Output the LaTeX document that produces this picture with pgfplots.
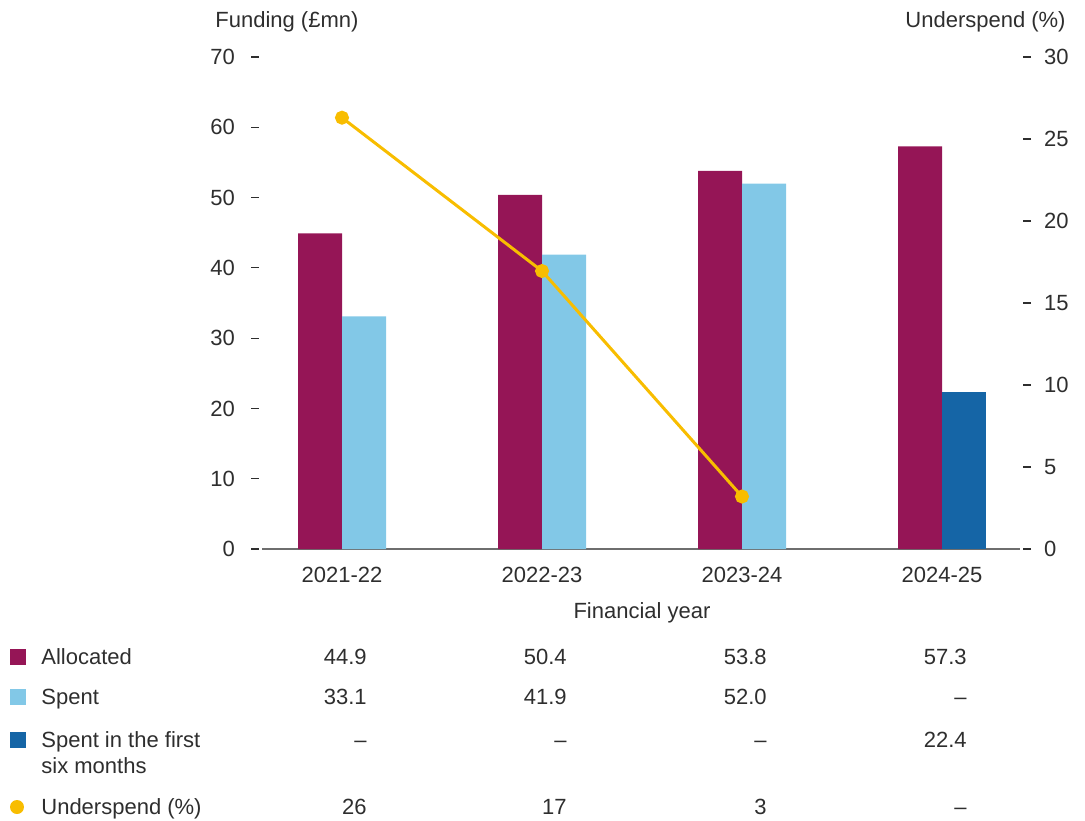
\documentclass[border=0pt]{standalone}
\usepackage{fontspec}
\setmainfont{Liberation Sans}
\usepackage{pgfplots}
\pgfplotsset{compat=1.18}
\definecolor{maroon}{HTML}{951556}
\definecolor{lblue}{HTML}{82C8E7}
\definecolor{dblue}{HTML}{1565A6}
\definecolor{gold}{HTML}{F8BD00}
\definecolor{txt}{HTML}{2E2E2E}
\definecolor{axgray}{HTML}{6E6E6E}
\newcommand{\fs}{\fontsize{11pt}{13pt}\selectfont}
\begin{document}
\begin{tikzpicture}[x=0.5pt,y=0.5pt,
  lab/.style={inner sep=0pt, text height=7.9pt, text depth=0pt, text=txt, font=\fs}]
\path (0,0) rectangle (1085,820);
\begin{axis}[
  at={(131pt,135.5pt)}, anchor=south west,
  scale only axis, width=379pt, height=246pt,
  xmin=-0.4, xmax=3.39, ymin=0, ymax=70,
  axis x line*=bottom, axis y line*=left,
  axis line style={-},
  x axis line style={axgray, line width=0.75pt},
  y axis line style={draw=none},
  xtick={0,1,2,3}, xticklabels={2021-22,2022-23,2023-24,2024-25},
  x tick style={draw=none},
  ytick={0,10,...,70},
  y tick style={txt, line width=0.6pt, xshift=-1.5pt},
  tick align=outside, major tick length=4pt,
  /pgf/number format/assume math mode=true,
  every tick label/.append style={font=\fs, text=txt},
  xticklabel style={yshift=-1.5pt},
  yticklabel style={xshift=-6pt},
  ybar, bar width=22pt,
]
\addplot[fill=maroon, draw=none, bar shift=-11pt] coordinates {(0,44.9)(1,50.4)(2,53.8)(3,57.3)};
\addplot[fill=lblue, draw=none, bar shift=11pt] coordinates {(0,33.1)(1,41.9)(2,52.0)};
\addplot[fill=dblue, draw=none, bar shift=11pt] coordinates {(3,22.4)};
\end{axis}
\begin{axis}[
  at={(131pt,135.5pt)}, anchor=south west,
  scale only axis, width=379pt, height=246pt,
  xmin=-0.4, xmax=3.39, ymin=0, ymax=30,
  axis x line=none, axis y line*=right,
  axis line style={-},
  y axis line style={draw=none},
  ytick={0,5,...,30},
  y tick style={txt, line width=0.6pt, xshift=1.5pt},
  tick align=outside, major tick length=4pt,
  /pgf/number format/assume math mode=true,
  every tick label/.append style={font=\fs, text=txt},
  yticklabel style={xshift=4.5pt},
]
\addplot[gold, line width=1.5pt, mark=*, mark size=2.75pt, mark options={fill=gold, draw=gold}] coordinates {(0,26.3)(1,16.95)(2,3.2)};
\end{axis}
% axis titles
\node[lab, anchor=west] at (215,800) {Funding (£mn)};
\node[lab, anchor=east] at (1066,800) {Underspend (\%)};
\node[lab] at (642,209) {Financial year};
% table legend
\fill[maroon] (10,155) rectangle (26,171);
\fill[lblue] (10,115) rectangle (26,131);
\fill[dblue] (10,72) rectangle (26,88);
\fill[gold] (17,13) circle (7);
\node[lab, anchor=west] at (41,163) {Allocated};
\node[lab, anchor=west] at (41,123) {Spent};
\node[lab, anchor=west] at (41,80) {Spent in the first};
\node[lab, anchor=west] at (41,54) {six months};
\node[lab, anchor=west] at (41,13) {Underspend (\%)};
% values
\node[lab, anchor=east] at (367,163) {44.9};
\node[lab, anchor=east] at (567,163) {50.4};
\node[lab, anchor=east] at (767,163) {53.8};
\node[lab, anchor=east] at (967,163) {57.3};
\node[lab, anchor=east] at (367,123) {33.1};
\node[lab, anchor=east] at (567,123) {41.9};
\node[lab, anchor=east] at (767,123) {52.0};
\node[lab, anchor=east] at (967,123) {--};
\node[lab, anchor=east] at (367,80) {--};
\node[lab, anchor=east] at (567,80) {--};
\node[lab, anchor=east] at (767,80) {--};
\node[lab, anchor=east] at (967,80) {22.4};
\node[lab, anchor=east] at (367,13) {26};
\node[lab, anchor=east] at (567,13) {17};
\node[lab, anchor=east] at (767,13) {3};
\node[lab, anchor=east] at (967,13) {--};
\end{tikzpicture}
\end{document}
